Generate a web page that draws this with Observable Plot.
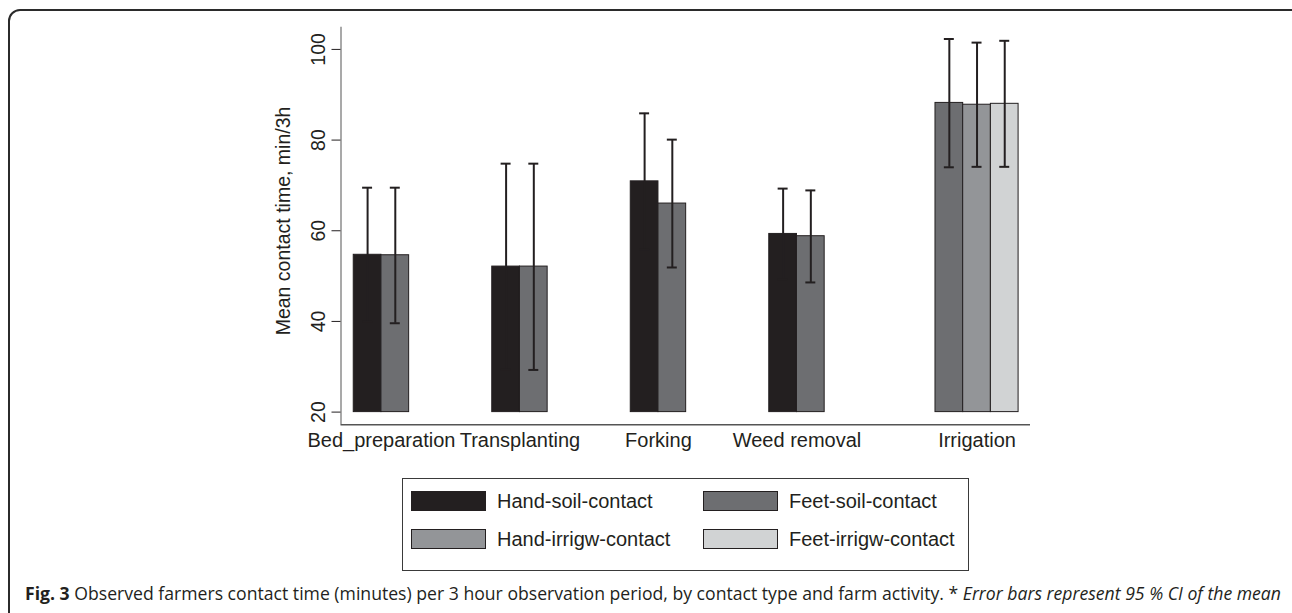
<!DOCTYPE html>
<html>
<head>
<meta charset="utf-8">
<script src="https://cdn.jsdelivr.net/npm/d3@7"></script>
<script src="https://cdn.jsdelivr.net/npm/@observablehq/plot@0.6"></script>
<style>
  body { margin: 0; background: #fff; }
  #fig { position: relative; width: 1292px; height: 613px; overflow: hidden; background: #fff;
         font-family: "Liberation Sans", Arial, sans-serif; color: #231f20; }
  #border { position: absolute; left: 8px; top: 9px; width: 1310px; height: 650px;
            border: 2px solid #2b2b2b; border-radius: 12px; box-sizing: border-box; }
  #chart { position: absolute; left: 0; top: 0; }
  #legend { position: absolute; left: 402px; top: 478px; width: 567px; height: 93px;
            border: 1.5px solid #3a3a3a; box-sizing: border-box; }
  .item { position: absolute; display: flex; align-items: center; height: 20px;
          font-size: 20px; line-height: 20px; white-space: nowrap; }
  .sw { width: 75px; height: 20px; border: 1px solid #231f20; box-sizing: border-box; margin-right: 11px; }
  #caption { position: absolute; left: 25px; top: 581px; white-space: nowrap;
             font-family: "Open Sans", "Noto Sans", sans-serif; font-size: 18.5px; line-height: 24px;
             color: #231f20; transform-origin: 0 0; }
  #caption b { font-weight: 700; }
  #caption i { font-style: italic; }
</style>
</head>
<body>
<div id="fig">
  <div id="border"></div>
  <div id="chart"></div>
  <div id="legend"></div>
  <div id="caption"><b>Fig. 3</b> Observed farmers contact time (minutes) per 3 hour observation period, by contact type and farm activity. * <i>Error bars represent 95 % CI of the mean</i></div>
</div>
<script>
// ---------------- data ----------------
const activities = ["Bed_preparation", "Transplanting", "Forking", "Weed removal", "Irrigation"];
const contactTypes = ["Hand-soil-contact", "Feet-soil-contact", "Hand-irrigw-contact", "Feet-irrigw-contact"];
const typeColors = ["#231f20", "#6d6e71", "#939598", "#d1d3d4"];

const handSoil     = [54.7, 52.1, 70.9, 59.3, null];
const handSoilLo   = [39.9, 29.4, 55.9, 49.3, null];
const handSoilHi   = [69.5, 74.8, 85.9, 69.3, null];

const feetSoil     = [54.6, 52.1, 66.0, 58.8, 88.2];
const feetSoilLo   = [39.6, 29.3, 51.9, 48.6, 74.0];
const feetSoilHi   = [69.5, 74.8, 80.1, 68.9, 102.3];

const handIrrigw   = [null, null, null, null, 87.8];
const handIrrigwLo = [null, null, null, null, 74.1];
const handIrrigwHi = [null, null, null, null, 101.5];

const feetIrrigw   = [null, null, null, null, 88.0];
const feetIrrigwLo = [null, null, null, null, 74.1];
const feetIrrigwHi = [null, null, null, null, 101.9];

const yTicks = [20, 40, 60, 80, 100];
const yDomain = [17.2, 104.9];
const barBase = 20;
const yLabel = "Mean contact time, min/3h";

// ---------------- table ----------------
const series = [
  [handSoil, handSoilLo, handSoilHi],
  [feetSoil, feetSoilLo, feetSoilHi],
  [handIrrigw, handIrrigwLo, handIrrigwHi],
  [feetIrrigw, feetIrrigwLo, feetIrrigwHi]
];
const slotsPerGroup = contactTypes.length + 1; // 4 bars + 1 gap
const rows = [];
series.forEach(([vals, los, his], t) => {
  vals.forEach((v, g) => {
    if (v == null) return;
    const pos = g * slotsPerGroup + t;
    rows.push({activity: activities[g], type: contactTypes[t], value: v, lo: los[g], hi: his[g],
               x1: pos, x2: pos + 1, xc: pos + 0.5});
  });
});
const groupLabels = activities.map(a => {
  const r = rows.filter(d => d.activity === a);
  return {activity: a, xc: d3.mean(r, d => d.xc)};
});
const nSlots = activities.length * slotsPerGroup - 1;
const xDomain = [-0.46, nSlots + 0.43];
const capHalf = 0.18;
const ink = "#231f20";

const chart = Plot.plot({
  width: 1292,
  height: 460,
  marginLeft: 340.5,
  marginRight: 262,
  marginTop: 26.7,
  marginBottom: 35.7,
  x: {domain: xDomain, axis: null},
  y: {domain: yDomain, axis: null},
  color: {domain: contactTypes, range: typeColors},
  style: {fontFamily: "'Liberation Sans', Arial, sans-serif", fontSize: "20px", color: ink, background: "transparent"},
  marks: [
    Plot.rectY(rows, {x1: "x1", x2: "x2", y1: barBase, y2: "value", fill: "type", stroke: ink, strokeWidth: 1}),
    Plot.ruleX(rows, {x: "xc", y1: "lo", y2: "hi", stroke: ink, strokeWidth: 2}),
    Plot.ruleY(rows, {y: "hi", x1: d => d.xc - capHalf, x2: d => d.xc + capHalf, stroke: ink, strokeWidth: 2}),
    Plot.ruleY(rows, {y: "lo", x1: d => d.xc - capHalf, x2: d => d.xc + capHalf, stroke: ink, strokeWidth: 2}),
    Plot.ruleX([xDomain[0]], {stroke: "#8c8c8c", strokeWidth: 1.5}),
    Plot.ruleY([yDomain[0]], {stroke: "#555555", strokeWidth: 1.5}),
    Plot.axisY(yTicks, {tickSize: 9, fill: "none", label: null, stroke: ink}),
    Plot.text(yTicks, {y: d => d, text: d => String(d), frameAnchor: "left", rotate: -90,
                       dx: -22.5, textAnchor: "middle", lineAnchor: "middle", fontSize: 19.5, fill: ink}),
    Plot.text([yLabel], {text: d => d, frameAnchor: "left", rotate: -90, dx: -57.5, dy: -5,
                         textAnchor: "middle", lineAnchor: "middle", fontSize: 19.5, fill: ink}),
    Plot.text(groupLabels, {x: "xc", text: "activity", frameAnchor: "bottom", dy: 16,
                            lineAnchor: "middle", textAnchor: "middle", fontSize: 20, fill: ink})
  ]
});
document.getElementById("chart").appendChild(chart);

// ---------------- legend ----------------
const legend = document.getElementById("legend");
const legendPos = [[8, 12], [300, 12], [8, 50], [300, 50]];
contactTypes.forEach((type, i) => {
  const it = document.createElement("div");
  it.className = "item";
  it.style.left = legendPos[i][0] + "px";
  it.style.top = legendPos[i][1] + "px";
  const sw = document.createElement("div");
  sw.className = "sw";
  sw.style.background = typeColors[i];
  const lab = document.createElement("span");
  lab.textContent = type;
  it.appendChild(sw);
  it.appendChild(lab);
  legend.appendChild(it);
});

// ---------------- caption: fit to the reference width ----------------
const cap = document.getElementById("caption");
const natural = cap.getBoundingClientRect().width;
const targetWidth = 1256;
cap.style.transform = `scaleX(${targetWidth / natural})`;
</script>
</body>
</html>
